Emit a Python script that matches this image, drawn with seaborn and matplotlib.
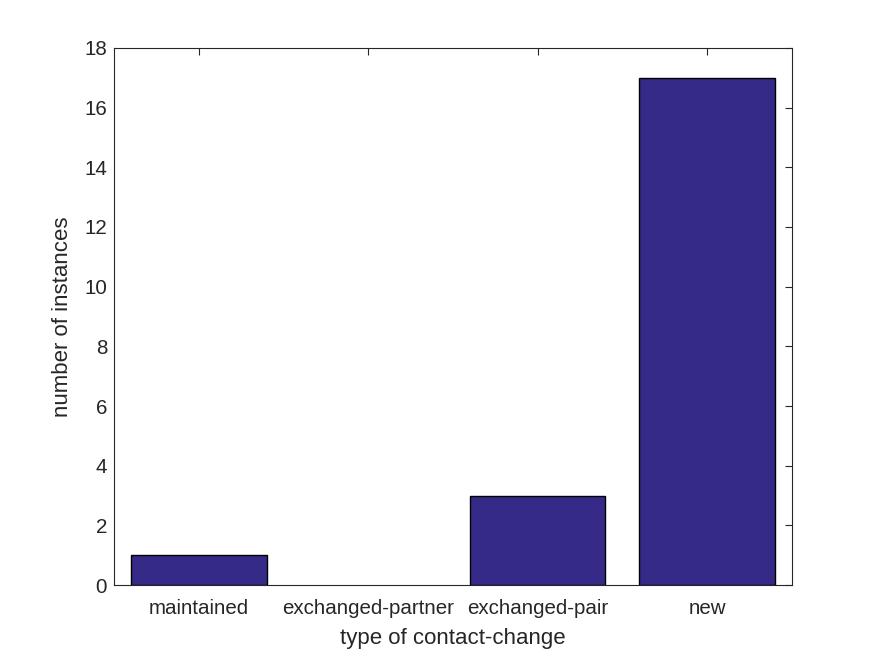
import matplotlib
matplotlib.use("Agg")
import matplotlib.pyplot as plt
import seaborn as sns
import pandas as pd

categories = ["maintained", "exchanged-partner", "exchanged-pair", "new"]
counts = [1, 0, 3, 17]
y_ticks = list(range(0, 19, 2))

sns.set_style("white")
plt.rcParams["font.family"] = ["Liberation Sans", "DejaVu Sans"]

data = pd.DataFrame({"type": categories, "count": counts})

fig = plt.figure(figsize=(8.75, 6.56), dpi=100)
ax = fig.add_axes([0.1303, 0.108, 0.905 - 0.1303, 0.927 - 0.108])
sns.barplot(data, x="type", y="count", color="#352A87", saturation=1,
            width=0.8, edgecolor="black", linewidth=1, ax=ax)
# a zero-height bar draws nothing in the reference
for patch, c in zip(ax.patches, counts):
    if c == 0:
        patch.set_linewidth(0)

ax.set_xlim(-0.5, 3.5)
ax.set_ylim(0, 18)
ax.set_yticks(y_ticks)
ax.set_xlabel("type of contact-change", fontsize=16, color="#262626", labelpad=7)
ax.set_ylabel("number of instances", fontsize=16, color="#262626", labelpad=8)
ax.tick_params(direction="in", top=True, right=True, length=5, width=0.8,
               labelsize=14.8, colors="#262626", labelcolor="#262626")
ax.tick_params(axis="x", pad=10)
ax.tick_params(axis="y", pad=5)
for s in ax.spines.values():
    s.set_visible(True)
    s.set_color("#262626")
    s.set_linewidth(0.8)

fig.savefig("out.png", dpi=100)
